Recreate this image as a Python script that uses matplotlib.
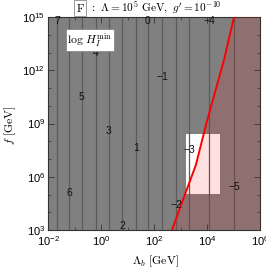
import numpy as np
import matplotlib
matplotlib.use("Agg")
import matplotlib.pyplot as plt
from matplotlib.ticker import LogLocator, NullFormatter

plt.rcParams['font.family'] = ['Liberation Sans', 'DejaVu Sans']

# contour levels of log H_I^min and the log10(Lambda_b) where each vertical line sits
levels = [7, 6, 5, 4, 3, 2, 1, 0, -1, -2, -3, -4, -5]
level_logL = [-1.66, -1.21, -0.72, -0.19, 0.30, 0.79, 1.32, 1.77, 2.30, 2.83, 3.32, 4.08, 5.02]
# where the contour labels are written (log10 f)
label_logf = [14.75, 5.1, 10.5, 13.0, 8.6, 3.25, 7.6, 14.75, 11.6, 4.4, 7.5, 14.75, 5.4]

# red boundary curve (log10 Lambda_b, log10 f)
red_logL = [2.68, 3.09, 3.58, 3.96, 4.64, 5.02]
red_logf = [3.0, 4.69, 6.66, 8.92, 12.58, 15.0]

# white allowed window
win_logL = [3.2, 4.5]
win_logf = [5.03, 8.4]

x_lo, x_hi = 1e-2, 1e6
y_lo, y_hi = 1e3, 1e15

fig = plt.figure(figsize=(2.66, 2.73), dpi=100)
ax = fig.add_axes([48/266, 43/273, 212/266, 213/273])
ax.set_xscale('log')
ax.set_yscale('log')
ax.set_xlim(x_lo, x_hi)
ax.set_ylim(y_lo, y_hi)
ax.set_facecolor('#808080')

# white window
ax.fill_between([10**v for v in win_logL], 10**win_logf[0], 10**win_logf[1],
                color='white', zorder=1, linewidth=0)

# contour lines
for lv, xl, yl in zip(levels, level_logL, label_logf):
    ax.vlines(10**xl, y_lo, y_hi, color='#5a5a5a', linewidth=0.9, zorder=2)
    txt = str(lv).replace('-', '\u2212')
    ax.text(10**xl, 10**yl, txt, ha='center', va='center', fontsize=7.5,
            color='#111111', zorder=5)

# red tinted excluded region right of the boundary
rx = [10**v for v in red_logL]
ry = [10**v for v in red_logf]
poly_x = rx + [x_hi, x_hi]
poly_y = ry + [y_hi, y_lo]
ax.fill(poly_x, poly_y, color='red', alpha=0.12, linewidth=0, zorder=3)
ax.plot(rx, ry, color='red', linewidth=1.4, zorder=4)

# ticks
ax.set_xticks([1e-2, 1e0, 1e2, 1e4, 1e6])
ax.xaxis.set_minor_locator(LogLocator(base=10, subs=[1.0], numticks=20))
ax.set_yticks([1e3, 1e6, 1e9, 1e12, 1e15])
ax.yaxis.set_minor_locator(LogLocator(base=10, subs=[1.0], numticks=30))
ax.xaxis.set_minor_formatter(NullFormatter())
ax.yaxis.set_minor_formatter(NullFormatter())
ax.tick_params(which='both', direction='in', top=True, right=True,
               labelsize=8, color='#333333', pad=2)
ax.tick_params(which='major', length=4, width=0.6)
ax.tick_params(which='minor', length=2, width=0.5)
ax.tick_params(axis='x', pad=3)
for s in ax.spines.values():
    s.set_color('#333333')
    s.set_linewidth(0.8)

# inset label
ax.text(90/266, 1 - 40/273, r'$\log\,H_I^{\min}$', transform=fig.transFigure,
        ha='center', va='center', fontsize=8.5, math_fontfamily='cm',
        bbox=dict(boxstyle='square,pad=0.15', facecolor='white', edgecolor='#888888', linewidth=0.6),
        zorder=6)

# title
fig.text(80/266, 1 - 8/273, r'$\mathrm{F}$', ha='center', va='center', fontsize=8.2,
         math_fontfamily='cm',
         bbox=dict(boxstyle='square,pad=0.15', facecolor='white', edgecolor='#888888', linewidth=0.6))
fig.text(90/266, 1 - 8/273, r'$:\ \Lambda = 10^5\ \mathrm{GeV},\ g^{\prime} = 10^{-10}$',
         ha='left', va='center', fontsize=8.2, math_fontfamily='cm')

# axis labels
fig.text(155/266, 1 - 261/273, r'$\Lambda_b\ [\mathrm{GeV}]$', ha='center', va='center',
         fontsize=8.5, math_fontfamily='cm')
fig.text(10/266, 1 - 125/273, r'$f\ [\mathrm{GeV}]$', ha='center', va='center',
         fontsize=8.5, rotation=90, math_fontfamily='cm')

fig.savefig('out.png', dpi=100)
